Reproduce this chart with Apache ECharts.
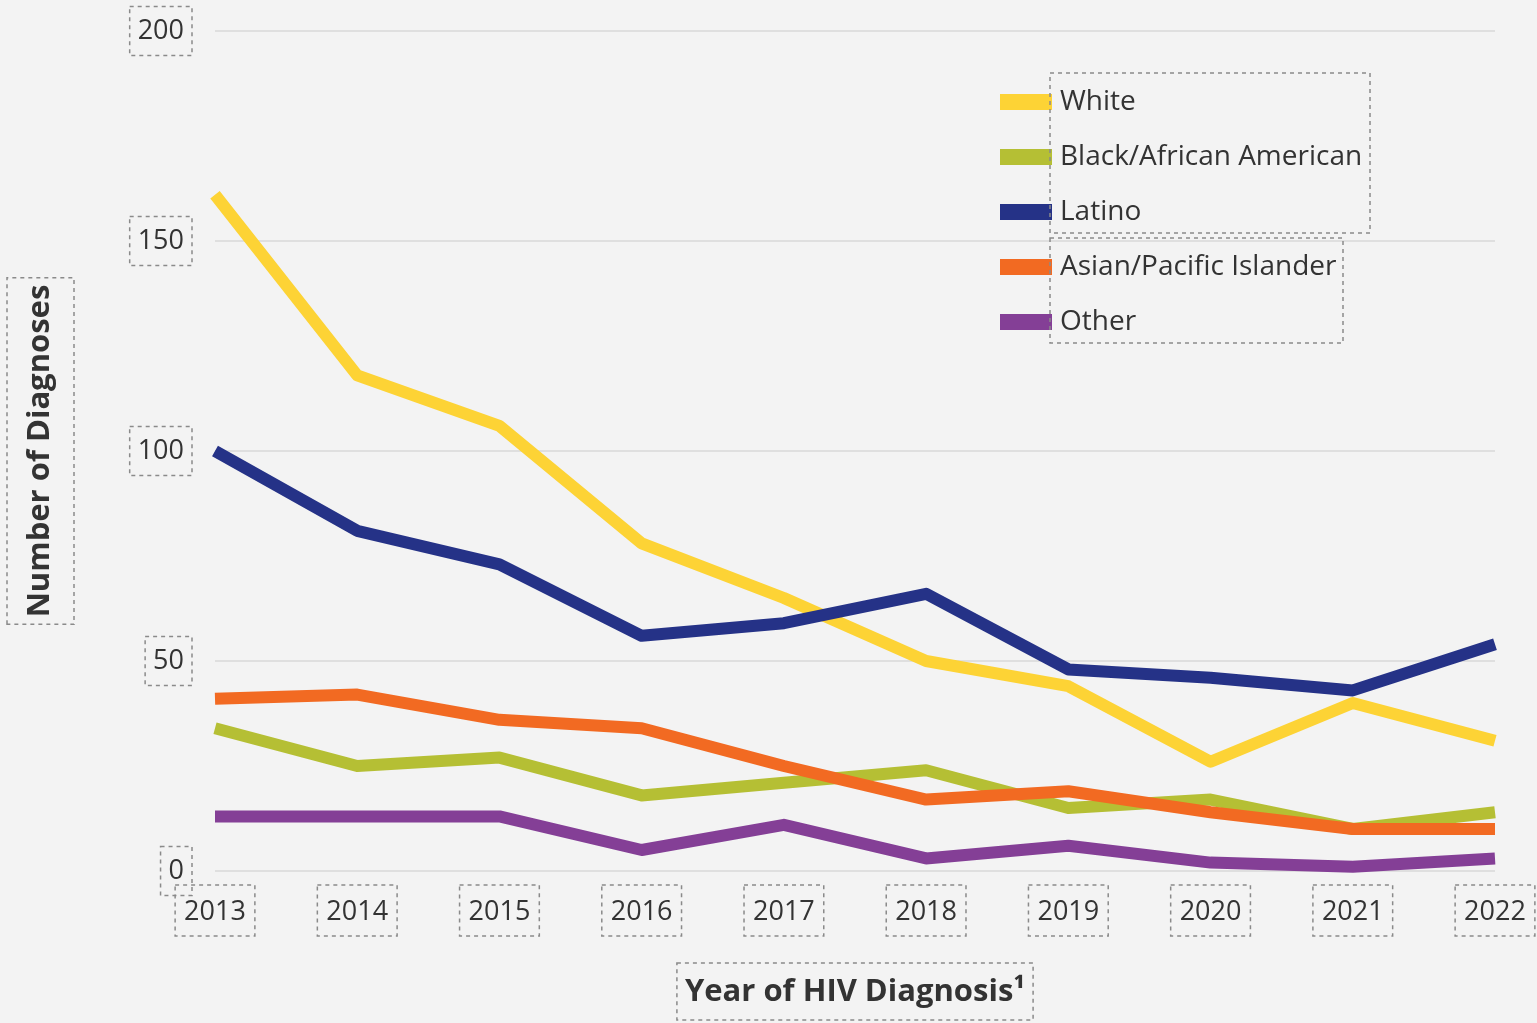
<!DOCTYPE html>
<html>
<head>
<meta charset="utf-8">
<script src="https://cdn.jsdelivr.net/npm/echarts@6/dist/echarts.min.js"></script>
<style>
html,body{margin:0;padding:0;background:#f3f3f3;}
#chart{width:1537px;height:1023px;}
</style>
</head>
<body>
<div id="chart"></div>
<script>
var years = ['2013','2014','2015','2016','2017','2018','2019','2020','2021','2022'];
var white = [161, 118, 106, 78, 65, 50, 44, 26, 40, 31];
var black = [34, 25, 27, 18, 21, 24, 15, 17, 10, 14];
var latino = [100, 81, 73, 56, 59, 66, 48, 46, 43, 54];
var asian = [41, 42, 36, 34, 25, 17, 19, 14, 10, 10];
var other = [13, 13, 13, 5, 11, 3, 6, 2, 1, 3];
var yTicks = [0, 50, 100, 150, 200];

var FONT = '"Open Sans", "Noto Sans", sans-serif';
var dash = {borderColor:'#8a8a8a', borderWidth:1.5, borderType:[4,4]};

function mk(name, data, color){
  return {name:name, type:'line', data:data, showSymbol:false, symbol:'none',
    lineStyle:{width:12, color:color, join:'round', cap:'butt'},
    itemStyle:{color:color}, z: 2};
}

var chart = echarts.init(document.getElementById('chart'));
chart.setOption({
  backgroundColor:'#f3f3f3',
  animation:false,
  grid:{left:215, right:42, top:31, bottom:152, containLabel:false, outerBoundsMode:'none'},
  legend:{
    orient:'vertical', left:1000, top:87, icon:'rect', padding:0,
    itemWidth:52, itemHeight:16, itemGap:25,
    textStyle:{fontFamily:FONT, fontSize:28, color:'#333', lineHeight:30, padding:[0,0,0,3]},
    data:['White','Black/African American','Latino','Asian/Pacific Islander','Other']
  },
  xAxis:{
    type:'category', data:years, boundaryGap:false,
    axisLine:{show:false}, axisTick:{show:false},
    axisLabel:Object.assign({fontFamily:FONT, fontSize:27, lineHeight:27, color:'#333', margin:14, padding:[14,9,10,9]}, dash),
    name:'Year of HIV Diagnosis\u00b9', nameLocation:'middle', nameGap:92,
    nameTextStyle:Object.assign({fontFamily:FONT, fontSize:31, lineHeight:32, fontWeight:'bold', color:'#333', padding:[13,8,12,8]}, dash)
  },
  yAxis:{
    type:'value', min:0, max:200, interval:50,
    axisLine:{show:false}, axisTick:{show:false},
    splitLine:{lineStyle:{color:'#d9d9d9', width:1.5}},
    axisLabel:Object.assign({fontFamily:FONT, fontSize:27, lineHeight:27, color:'#333', margin:23, padding:[12,8,10,8],
      formatter:function(v){return yTicks.indexOf(v)>=0 ? String(v) : '';}}, dash),
    name:'Number of Diagnoses', nameLocation:'middle', nameGap:141, nameRotate:90,
    nameTextStyle:Object.assign({fontFamily:FONT, fontSize:31, lineHeight:32, fontWeight:'bold', color:'#333', padding:[17,7,18,7]}, dash)
  },
  graphic:[
    {type:'rect', shape:{x:1050, y:73, width:320, height:160}, style:{fill:'none', stroke:'#8a8a8a', lineWidth:1.5, lineDash:[4,4]}, z:10},
    {type:'rect', shape:{x:1050, y:238, width:293, height:105}, style:{fill:'none', stroke:'#8a8a8a', lineWidth:1.5, lineDash:[4,4]}, z:10}
  ],
  series:[
    mk('White', white, '#fdd335'),
    mk('Black/African American', black, '#b5bf34'),
    mk('Latino', latino, '#253287'),
    mk('Asian/Pacific Islander', asian, '#f26a22'),
    mk('Other', other, '#843f96')
  ]
});
</script>
</body>
</html>
